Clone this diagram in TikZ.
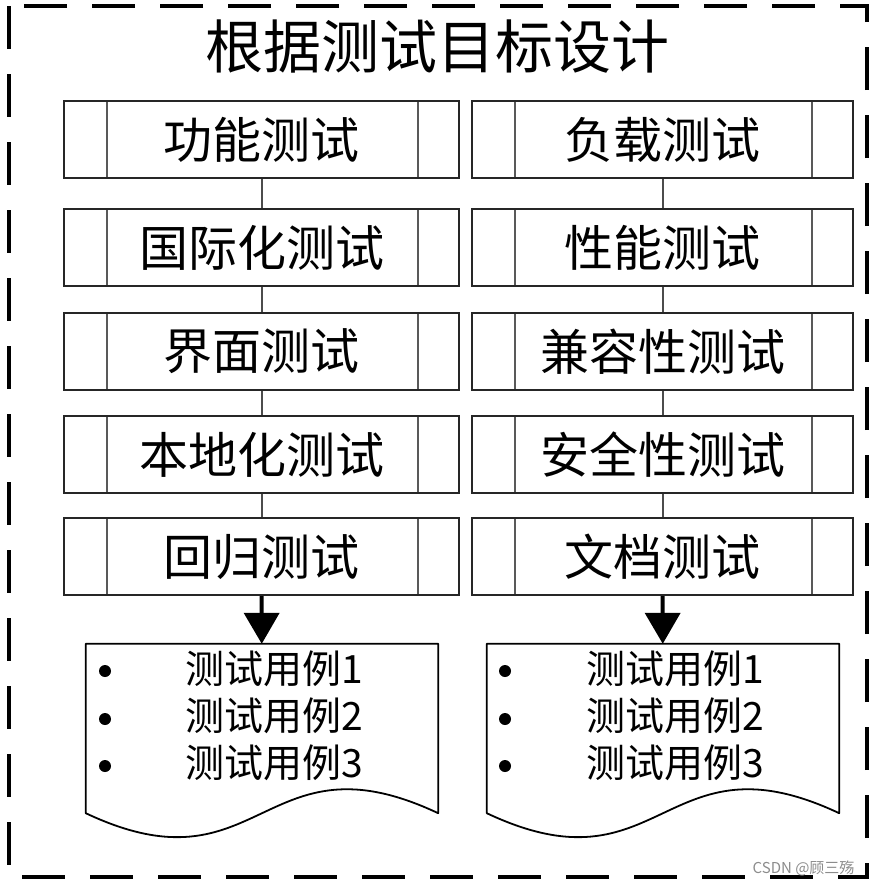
\documentclass[tikz,border=0pt]{standalone}
\usepackage{fontspec}
\newfontfamily\cjk{Noto Sans CJK SC}
\usetikzlibrary{arrows.meta, calc}

\begin{document}
\begin{tikzpicture}[x=1pt, y=-1pt]
    \tikzset{
        procbox/.style={draw=black!85, line width=2pt, minimum height=77pt, inner sep=0pt,
            font=\cjk\fontsize{49}{52}\selectfont,
            path picture={
                \draw[black!65, line width=2pt]
                    ([xshift=43pt]path picture bounding box.north west) -- ([xshift=43pt]path picture bounding box.south west)
                    ([xshift=-41pt]path picture bounding box.north east) -- ([xshift=-41pt]path picture bounding box.south east);
            }},
        link/.style={black!70, line width=2pt},
        flow/.style={line width=4pt, -{Triangle[width=35pt, length=31pt]}},
        docbox/.style={minimum width=352pt, minimum height=169pt, inner sep=0pt},
        docline/.style={line width=1.8pt, line join=round},
        dot/.style={circle, fill=black, inner sep=0pt, minimum size=12pt},
        casetext/.style={anchor=west, inner sep=0pt, font=\cjk\fontsize{39}{41}\selectfont}
    }

    \useasboundingbox (0,0) rectangle (874,886);
    \draw[line width=4.5pt, dash pattern=on 43pt off 25pt] (9,6) rectangle (867,877);

    \node[font=\cjk\fontsize{58}{60}\selectfont] (title) at (437,47) {根据测试目标设计};

    \foreach \lbl/\y [count=\i] in {功能测试/139.5, 国际化测试/247.5, 界面测试/351.5, 本地化测试/454.5, 回归测试/556.5}
        \node[procbox, minimum width=395pt] (l\i) at (261.5,\y) {\lbl};
    \foreach \lbl/\y [count=\i] in {负载测试/139.5, 性能测试/247.5, 兼容性测试/351.5, 安全性测试/454.5, 文档测试/556.5}
        \node[procbox, minimum width=381pt] (r\i) at (662.5,\y) {\lbl};

    \foreach \i [evaluate=\i as \j using int(\i+1)] in {1,...,4} {
        \draw[link] (l\i) -- (l\j);
        \draw[link] (r\i) -- (r\j);
    }

    % test case documents
    \node[docbox] (dl) at (262,728.5) {};
    \node[docbox] (dr) at (663,728.5) {};
    \foreach \d in {dl, dr}
        \draw[docline] (\d.south west) -- (\d.north west) -- (\d.north east) -- (\d.south east)
            .. controls +(-176,-83) and +(176,83) .. (\d.south west) -- cycle;

    \draw[flow] (l5) -- (dl);
    \draw[flow] (r5) -- (dr);

    \foreach \n/\y/\by in {1/669/671, 2/716/719, 3/763/766} {
        \node[dot] (dl-b\n) at (105,\by) {};
        \node[casetext] (dl-t\n) at (185,\y) {测试用例\n};
        \node[dot] (dr-b\n) at (505,\by) {};
        \node[casetext] (dr-t\n) at (586,\y) {测试用例\n};
    }

    \node[anchor=east, text=black!45, font=\cjk\fontsize{15}{16}\selectfont] (mark) at (858,868) {CSDN @顾三殇};
\end{tikzpicture}
\end{document}
